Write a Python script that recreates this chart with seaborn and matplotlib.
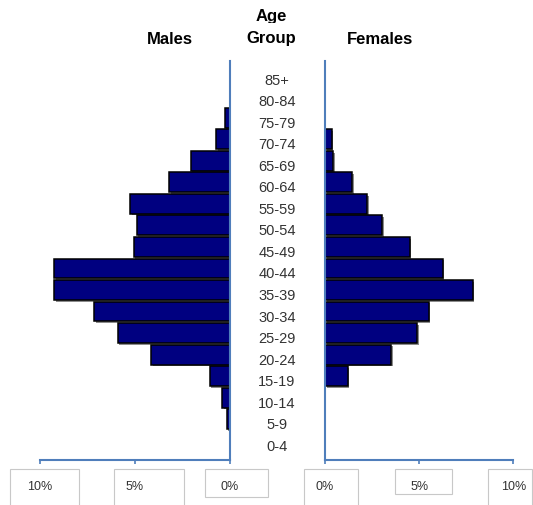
import matplotlib
matplotlib.use("Agg")
import matplotlib.pyplot as plt
import matplotlib.patheffects as pe
import matplotlib.transforms as mtrans
from matplotlib.patches import Rectangle
import numpy as np
import pandas as pd
import seaborn as sns

# Age groups, oldest first (top of the pyramid)
age_groups = ["85+", "80-84", "75-79", "70-74", "65-69", "60-64", "55-59",
              "50-54", "45-49", "40-44", "35-39", "30-34", "25-29", "20-24",
              "15-19", "10-14", "5-9", "0-4"]
# Share of population (%) per age group
males = [0.0, 0.0, 0.25, 0.7, 2.05, 3.2, 5.25, 4.9, 5.05, 9.25, 9.25, 7.15,
         5.9, 4.15, 1.05, 0.4, 0.15, 0.0]
females = [0.0, 0.0, 0.0, 0.35, 0.45, 1.45, 2.25, 3.05, 4.5, 6.25, 7.85, 5.5,
           4.9, 3.5, 1.2, 0.0, 0.0, 0.0]
tick_values = [0, 5, 10]
tick_labels = ["0%", "5%", "10%"]

df = pd.DataFrame({"age": age_groups, "Males": males, "Females": females})

W, H = 533, 506
DPI = 100
sns.set_theme(style="white")
plt.rcParams["font.family"] = ["Liberation Sans", "DejaVu Sans"]

fig = plt.figure(figsize=(W / DPI, H / DPI), dpi=DPI)
fig.patch.set_facecolor("white")


def fig_rect(x0, x1, ytop, ybot):
    return [x0 / W, 1 - ybot / H, (x1 - x0) / W, (ybot - ytop) / H]


axis_color = "#4F7EBB"
bar_color = "#000080"
label_color = "#333333"

ax_m = fig.add_axes(fig_rect(40, 229.5, 61.7, 460.5))
ax_f = fig.add_axes(fig_rect(325, 513.3, 61.7, 460.5))

shadow = [pe.SimplePatchShadow(offset=(1.2, -1.2), shadow_rgbFace="#808080",
                               alpha=0.9), pe.Normal()]

for ax, col in ((ax_m, "Males"), (ax_f, "Females")):
    sns.barplot(data=df, x=col, y="age", order=age_groups, ax=ax,
                color=bar_color, saturation=1, edgecolor="black",
                linewidth=1.1, width=0.92, errorbar=None, orient="h")
    for p in ax.patches:
        p.set_path_effects(shadow)
    ax.set_ylim(len(age_groups) - 1 + 0.868, -0.645)
    ax.set_xlabel("")
    ax.set_ylabel("")
    ax.set_xticks(tick_values)
    ax.set_xticklabels(tick_labels)
    ax.tick_params(axis="y", left=False, right=False, labelleft=False,
                   labelright=False)
    ax.tick_params(axis="x", bottom=True, direction="out", length=3,
                   width=1.2, color=axis_color, pad=11.5, labelsize=9,
                   labelcolor=label_color)
    ax.set_facecolor("none")
    for s in ax.spines.values():
        s.set_visible(False)
    ax.spines["bottom"].set_visible(True)
    ax.spines["bottom"].set_color(axis_color)
    ax.spines["bottom"].set_linewidth(1.5)

ax_m.set_xlim(10, 0)
ax_f.set_xlim(0, 10)
for ax, side in ((ax_m, "right"), (ax_f, "left")):
    ax.spines[side].set_visible(True)
    ax.spines[side].set_color(axis_color)
    ax.spines[side].set_linewidth(1.5)

# Age group labels in the central column, sitting slightly below bar centres
label_offset = mtrans.ScaledTranslation(0, -5.0 / DPI, fig.dpi_scale_trans)
trans = mtrans.blended_transform_factory(fig.transFigure, ax_m.transData)
for i, lab in enumerate(age_groups):
    fig.text(277 / W, i, lab, transform=trans + label_offset, ha="center",
             va="center", fontsize=10.5, color=label_color)

# Column headings
fig.text(170 / W, 1 - 39 / H, "Males", ha="center", va="center",
         fontsize=12, fontweight="bold", color="black")
fig.text(380 / W, 1 - 39 / H, "Females", ha="center", va="center",
         fontsize=12, fontweight="bold", color="black")
age_t = fig.text(271.5 / W, 1 - 16 / H, "Age", ha="center", va="center",
                 fontsize=12, fontweight="bold", color="black")
age_t.set_clip_box(mtrans.TransformedBbox(
    mtrans.Bbox.from_extents(0, 1 - 23.5 / H, 1, 1), fig.transFigure))
age_t.set_clip_on(True)
fig.text(271.5 / W, 1 - 39 / H, "Group", ha="center", va="center",
         fontsize=12, fontweight="bold", color="black")

# Frames around the percentage labels
frames = [(10, 79, 470, 512), (114, 184, 470, 512), (205, 268, 470, 497.7),
          (304, 358, 470, 512), (395, 452, 470, 495), (488, 532, 470, 512)]
for x0, x1, y0, y1 in frames:
    fig.patches.append(Rectangle((x0 / W, 1 - y1 / H), (x1 - x0) / W,
                                 (y1 - y0) / H, transform=fig.transFigure,
                                 facecolor="none", edgecolor="#C8C8C8",
                                 linewidth=0.8, zorder=0))

fig.savefig("out.png", dpi=DPI, facecolor="white")
